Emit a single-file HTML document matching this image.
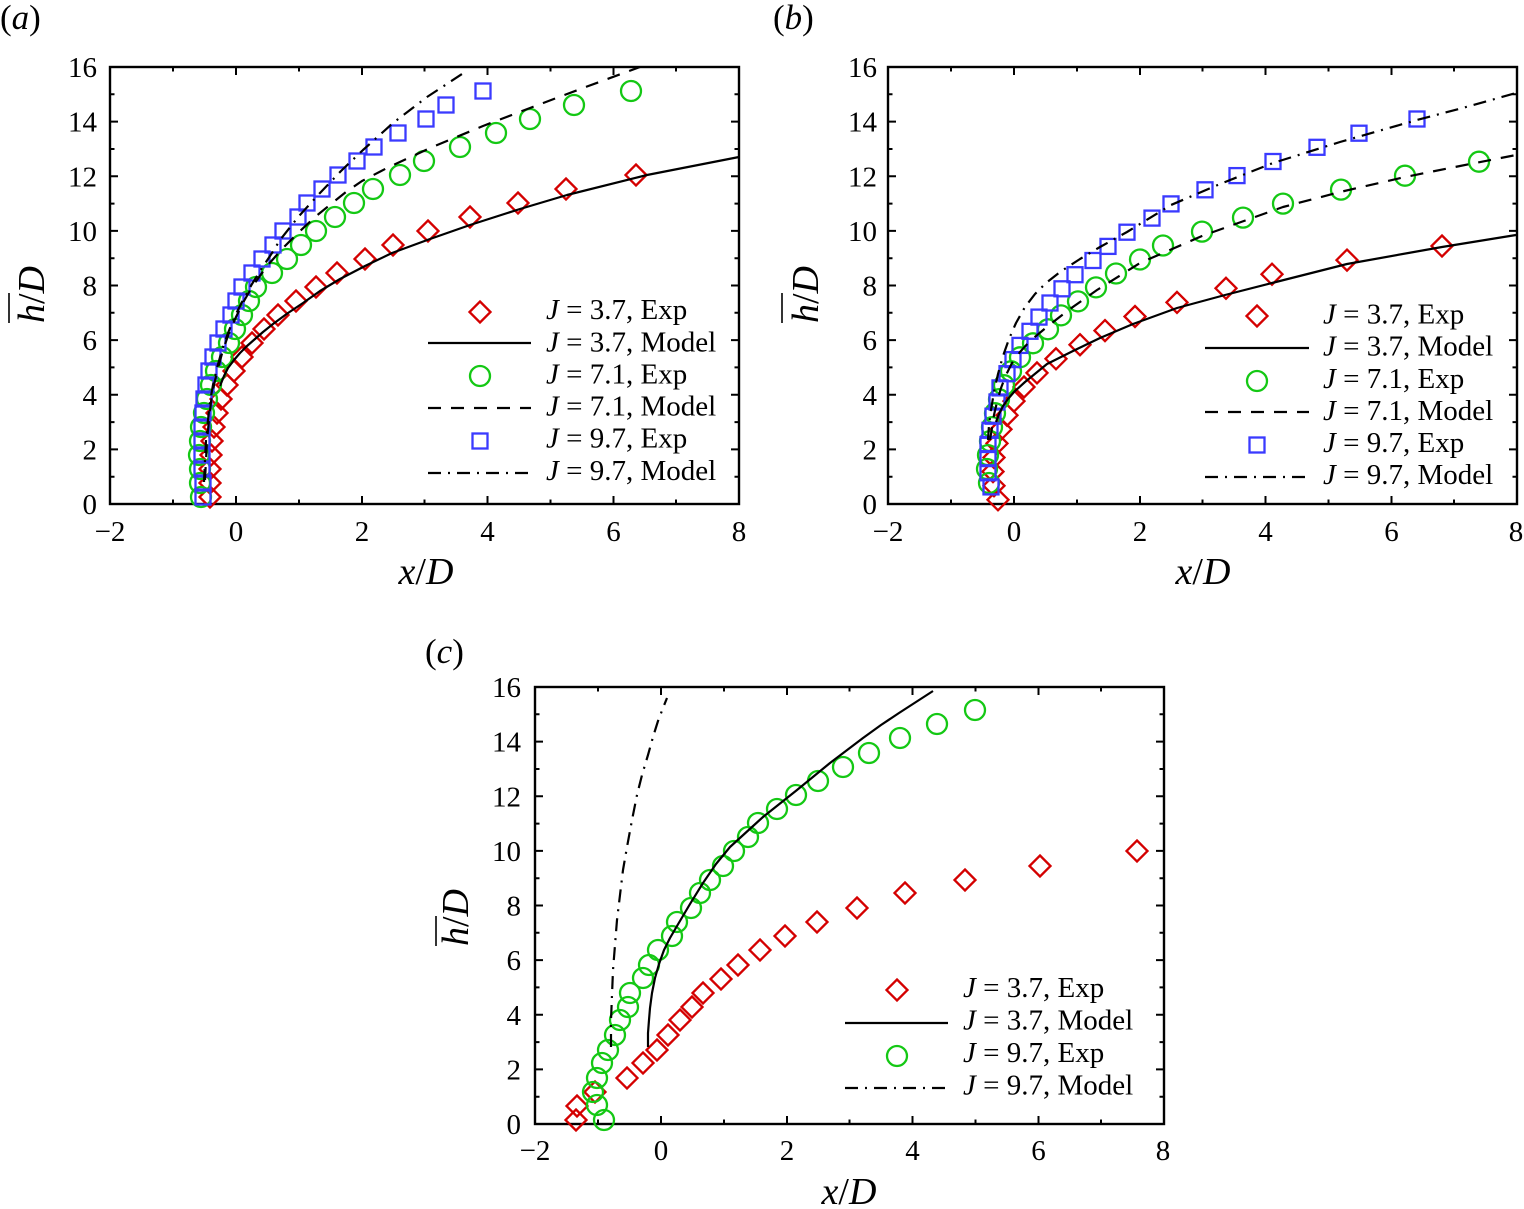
<!DOCTYPE html>
<html><head><meta charset="utf-8"><style>
html,body{margin:0;padding:0;background:#fff;}
svg{display:block;font-family:"Liberation Serif","Times New Roman",serif;}
</style></head><body>
<svg width="1524" height="1209" viewBox="0 0 1524 1209" xmlns="http://www.w3.org/2000/svg">
<defs>
<path id="dm" d="M0,-10.5 L10.5,0 L0,10.5 L-10.5,0Z" fill="none" stroke="#d40000" stroke-width="2.3"/>
<circle id="ci" cx="0" cy="0" r="10" fill="none" stroke="#14c814" stroke-width="2.3"/>
<rect id="sq" x="-7.5" y="-7.5" width="15" height="15" fill="none" stroke="#3a3aff" stroke-width="2.3"/>
<g id="ax">
<rect x="110" y="67" width="629" height="437" fill="none" stroke="#000" stroke-width="2.4"/>
<path fill="none" stroke="#000" stroke-width="2" d="M236,504v-8M362,504v-8M487.5,504v-8M613.5,504v-8M173,504v-4.5M299,504v-4.5M424.5,504v-4.5M550.5,504v-4.5M676,504v-4.5M236,67v8M362,67v8M487.5,67v8M613.5,67v8M173,67v4.5M299,67v4.5M424.5,67v4.5M550.5,67v4.5M676,67v4.5M110,449.4h8M110,394.8h8M110,340.1h8M110,285.5h8M110,230.9h8M110,176.3h8M110,121.6h8M110,476.7h4.5M110,422.1h4.5M110,367.4h4.5M110,312.8h4.5M110,258.2h4.5M110,203.6h4.5M110,149h4.5M110,94.3h4.5M739,449.4h-8M739,394.8h-8M739,340.1h-8M739,285.5h-8M739,230.9h-8M739,176.3h-8M739,121.6h-8M739,476.7h-4.5M739,422.1h-4.5M739,367.4h-4.5M739,312.8h-4.5M739,258.2h-4.5M739,203.6h-4.5M739,149h-4.5M739,94.3h-4.5"/>
</g>
</defs>

<use href="#ax"/>
<use href="#ax" transform="translate(778,0)"/>
<use href="#ax" transform="translate(425,620)"/>

<g font-size="29" fill="#000">
<g text-anchor="end">
<text x="97" y="77">16</text><text x="97" y="131.6">14</text><text x="97" y="186.3">12</text><text x="97" y="240.9">10</text><text x="97" y="295.5">8</text><text x="97" y="350.1">6</text><text x="97" y="404.8">4</text><text x="97" y="459.4">2</text><text x="97" y="514">0</text>
<text x="877" y="77">16</text><text x="877" y="131.6">14</text><text x="877" y="186.3">12</text><text x="877" y="240.9">10</text><text x="877" y="295.5">8</text><text x="877" y="350.1">6</text><text x="877" y="404.8">4</text><text x="877" y="459.4">2</text><text x="877" y="514">0</text>
<text x="521" y="697">16</text><text x="521" y="751.6">14</text><text x="521" y="806.3">12</text><text x="521" y="860.9">10</text><text x="521" y="915.5">8</text><text x="521" y="970.1">6</text><text x="521" y="1024.8">4</text><text x="521" y="1079.4">2</text><text x="521" y="1134">0</text>
</g>
<g text-anchor="middle">
<text x="110" y="541">−2</text><text x="236" y="541">0</text><text x="362" y="541">2</text><text x="487.5" y="541">4</text><text x="613.5" y="541">6</text><text x="739" y="541">8</text>
<text x="888" y="541">−2</text><text x="1014" y="541">0</text><text x="1140" y="541">2</text><text x="1265.5" y="541">4</text><text x="1391.5" y="541">6</text><text x="1516" y="541">8</text>
<text x="535" y="1160">−2</text><text x="661" y="1160">0</text><text x="787" y="1160">2</text><text x="912.5" y="1160">4</text><text x="1038.5" y="1160">6</text><text x="1163" y="1160">8</text>
</g>
</g>

<g font-size="38" fill="#000">
<text x="426" y="584" text-anchor="middle"><tspan font-style="italic">x</tspan>/<tspan font-style="italic">D</tspan></text>
<text x="1203" y="584" text-anchor="middle"><tspan font-style="italic">x</tspan>/<tspan font-style="italic">D</tspan></text>
<text x="849" y="1204" text-anchor="middle"><tspan font-style="italic">x</tspan>/<tspan font-style="italic">D</tspan></text>
<text transform="translate(44,323) rotate(-90)"><tspan font-style="italic">h</tspan>/<tspan font-style="italic">D</tspan></text>
<text transform="translate(818,323) rotate(-90)"><tspan font-style="italic">h</tspan>/<tspan font-style="italic">D</tspan></text>
<text transform="translate(468,946) rotate(-90)"><tspan font-style="italic">h</tspan>/<tspan font-style="italic">D</tspan></text>
</g>
<g stroke="#000" stroke-width="1.6">
<line x1="9" y1="293" x2="9" y2="323"/>
<line x1="782" y1="293" x2="782" y2="323"/>
<line x1="436" y1="916" x2="436" y2="946"/>
</g>

<g font-size="35" fill="#000">
<text x="0" y="29">(<tspan font-style="italic">a</tspan>)</text>
<text x="773" y="29">(<tspan font-style="italic">b</tspan>)</text>
<text x="425" y="663">(<tspan font-style="italic">c</tspan>)</text>
</g>

<!-- Panel (a) markers -->
<g>
<use href="#dm" x="636" y="175"/><use href="#dm" x="566" y="189"/><use href="#dm" x="518" y="203"/><use href="#dm" x="470" y="217"/><use href="#dm" x="428" y="231"/><use href="#dm" x="393" y="245"/><use href="#dm" x="365" y="259"/><use href="#dm" x="337" y="273"/><use href="#dm" x="316" y="287"/><use href="#dm" x="296" y="301"/><use href="#dm" x="278" y="315"/><use href="#dm" x="264" y="329"/><use href="#dm" x="252" y="343"/><use href="#dm" x="242" y="357"/><use href="#dm" x="234" y="371"/><use href="#dm" x="227" y="385"/><use href="#dm" x="221" y="399"/><use href="#dm" x="217" y="413"/><use href="#dm" x="214" y="427"/><use href="#dm" x="212" y="441"/><use href="#dm" x="211" y="455"/><use href="#dm" x="210" y="469"/><use href="#dm" x="210" y="483"/><use href="#dm" x="210" y="497"/>
</g>
<g>
<use href="#ci" x="631" y="91"/><use href="#ci" x="574" y="105"/><use href="#ci" x="530" y="119"/><use href="#ci" x="496" y="133"/><use href="#ci" x="460" y="147"/><use href="#ci" x="424" y="161"/><use href="#ci" x="400" y="175"/><use href="#ci" x="373" y="189"/><use href="#ci" x="354" y="203"/><use href="#ci" x="335" y="217"/><use href="#ci" x="316" y="231"/><use href="#ci" x="301" y="245"/><use href="#ci" x="287" y="259"/><use href="#ci" x="272" y="273"/><use href="#ci" x="256" y="287"/><use href="#ci" x="249" y="301"/><use href="#ci" x="242" y="315"/><use href="#ci" x="235" y="329"/><use href="#ci" x="229" y="343"/><use href="#ci" x="222" y="357"/><use href="#ci" x="216" y="371"/><use href="#ci" x="211" y="385"/><use href="#ci" x="207" y="399"/><use href="#ci" x="204" y="413"/><use href="#ci" x="201" y="427"/><use href="#ci" x="200" y="441"/><use href="#ci" x="199" y="455"/><use href="#ci" x="200" y="469"/><use href="#ci" x="200" y="483"/><use href="#ci" x="201" y="497"/>
</g>
<g>
<use href="#sq" x="483" y="91"/><use href="#sq" x="446" y="105"/><use href="#sq" x="426" y="119"/><use href="#sq" x="398" y="133"/><use href="#sq" x="374" y="147"/><use href="#sq" x="357" y="161"/><use href="#sq" x="338" y="175"/><use href="#sq" x="322" y="189"/><use href="#sq" x="307" y="203"/><use href="#sq" x="298" y="217"/><use href="#sq" x="283" y="231"/><use href="#sq" x="273" y="245"/><use href="#sq" x="262" y="259"/><use href="#sq" x="252" y="273"/><use href="#sq" x="242" y="287"/><use href="#sq" x="236" y="301"/><use href="#sq" x="231" y="315"/><use href="#sq" x="224" y="329"/><use href="#sq" x="218" y="343"/><use href="#sq" x="213" y="357"/><use href="#sq" x="209" y="371"/><use href="#sq" x="206" y="385"/><use href="#sq" x="204" y="399"/><use href="#sq" x="203" y="413"/><use href="#sq" x="202" y="427"/><use href="#sq" x="202" y="441"/><use href="#sq" x="202" y="455"/><use href="#sq" x="202" y="469"/><use href="#sq" x="203" y="483"/><use href="#sq" x="203" y="497"/>
</g>

<g fill="none" stroke="#000" stroke-width="2.2" stroke-linejoin="round">
<path d="M220,386 L224,376 L228,368 L234,360 L240,353 L247,346 L255,339 L263,332 L273,324 L288,313 L303,303 L320,291 L340,279 L365,266 L392,253 L430,239 L470,225 L520,209 L567,195 L647,175 L739,157"/>
<path stroke-dasharray="13 10" d="M205,480 L206,460 L207,440 L209,420 L211,402 L214,385 L218,368 L223,350 L229,333 L236,317 L244,301 L252,287 L267,266 L283,248 L299,232 L315,217 L331,204 L346,192 L362,181 L387,168 L430,148 L483,126 L530,108 L583,88 L640,67"/>
<path stroke-dasharray="13 7 2 7" d="M204,482 L205,460 L206,440 L208,420 L210,402 L213,385 L217,368 L222,350 L228,333 L235,316 L243,300 L252,284 L262,268 L272,253 L280,240 L299,216 L320,193 L341,171 L363,150 L393,123 L427,97 L462,74"/>
</g>

<use href="#dm" x="480" y="312"/>
<use href="#ci" x="480" y="376"/>
<use href="#sq" x="480" y="441"/>
<g fill="none" stroke="#000" stroke-width="2.2">
<path d="M428,343 H531"/>
<path stroke-dasharray="13 10" d="M428,408 H531"/>
<path stroke-dasharray="13 7 2 7" d="M428,473 H531"/>
</g>
<g font-size="29" fill="#000">
<text x="546" y="319"><tspan font-style="italic">J</tspan> = 3.7, Exp</text>
<text x="546" y="351.5"><tspan font-style="italic">J</tspan> = 3.7, Model</text>
<text x="546" y="383.5"><tspan font-style="italic">J</tspan> = 7.1, Exp</text>
<text x="546" y="415.5"><tspan font-style="italic">J</tspan> = 7.1, Model</text>
<text x="546" y="447.5"><tspan font-style="italic">J</tspan> = 9.7, Exp</text>
<text x="546" y="480"><tspan font-style="italic">J</tspan> = 9.7, Model</text>
</g>

<!-- Panel (b) markers -->
<g>
<use href="#dm" x="1442" y="246"/><use href="#dm" x="1347" y="260.1"/><use href="#dm" x="1272" y="274.2"/><use href="#dm" x="1226" y="288.3"/><use href="#dm" x="1177" y="302.4"/><use href="#dm" x="1135" y="316.5"/><use href="#dm" x="1105" y="330.6"/><use href="#dm" x="1080" y="344.7"/><use href="#dm" x="1056" y="358.8"/><use href="#dm" x="1037" y="372.9"/><use href="#dm" x="1024" y="387"/><use href="#dm" x="1014" y="401.1"/><use href="#dm" x="1007" y="415.2"/><use href="#dm" x="1001" y="429.3"/><use href="#dm" x="997" y="443.4"/><use href="#dm" x="994" y="457.5"/><use href="#dm" x="993" y="471.6"/><use href="#dm" x="994" y="485.7"/><use href="#dm" x="998" y="499.8"/>
</g>
<g>
<use href="#ci" x="1479" y="161.7"/><use href="#ci" x="1405" y="175.7"/><use href="#ci" x="1341" y="189.6"/><use href="#ci" x="1283" y="203.6"/><use href="#ci" x="1243" y="217.6"/><use href="#ci" x="1202" y="231.6"/><use href="#ci" x="1163" y="245.5"/><use href="#ci" x="1140" y="259.5"/><use href="#ci" x="1116" y="273.5"/><use href="#ci" x="1096" y="287.4"/><use href="#ci" x="1078" y="301.4"/><use href="#ci" x="1061" y="315.4"/><use href="#ci" x="1048" y="329.3"/><use href="#ci" x="1033" y="343.3"/><use href="#ci" x="1020" y="357.3"/><use href="#ci" x="1011" y="371.3"/><use href="#ci" x="1004" y="385.2"/><use href="#ci" x="999" y="399.2"/><use href="#ci" x="995" y="413.2"/><use href="#ci" x="992" y="427.1"/><use href="#ci" x="990" y="441.1"/><use href="#ci" x="988" y="455.1"/><use href="#ci" x="987" y="469"/><use href="#ci" x="989" y="483"/>
</g>
<g>
<use href="#sq" x="1417" y="119"/><use href="#sq" x="1359" y="133.2"/><use href="#sq" x="1317" y="147.3"/><use href="#sq" x="1273" y="161.5"/><use href="#sq" x="1237" y="175.6"/><use href="#sq" x="1205" y="189.8"/><use href="#sq" x="1171" y="203.9"/><use href="#sq" x="1152" y="218.1"/><use href="#sq" x="1127" y="232.2"/><use href="#sq" x="1108" y="246.4"/><use href="#sq" x="1093" y="260.5"/><use href="#sq" x="1075" y="274.7"/><use href="#sq" x="1062" y="288.8"/><use href="#sq" x="1050" y="303"/><use href="#sq" x="1039" y="317.1"/><use href="#sq" x="1030" y="331.3"/><use href="#sq" x="1020" y="345.4"/><use href="#sq" x="1013" y="359.6"/><use href="#sq" x="1007" y="373.7"/><use href="#sq" x="1000" y="387.9"/><use href="#sq" x="997" y="402"/><use href="#sq" x="993" y="416.2"/><use href="#sq" x="990" y="430.3"/><use href="#sq" x="988" y="444.5"/><use href="#sq" x="988" y="458.6"/><use href="#sq" x="988" y="472.8"/><use href="#sq" x="991" y="486.9"/>
</g>

<g fill="none" stroke="#000" stroke-width="2.2" stroke-linejoin="round">
<path d="M996,422 L999,414 L1003,406 L1008,399 L1014,392 L1025,382 L1047,364 L1073,351 L1100,338 L1133,324 L1177,308 L1225,295 L1272,283 L1347,264 L1442,247 L1516,235"/>
<path stroke-dasharray="13 10" d="M990,440 L992,428 L994,415 L997,402 L1001,388 L1006,375 L1012,363 L1020,352 L1030,341 L1048,326 L1070,309 L1097,290 L1140,263 L1202,236 L1283,207 L1340,192 L1405,177 L1460,166 L1516,155"/>
<path stroke-dasharray="13 7 2 7" d="M988,440 L989,425 L991,410 L994,392 L998,374 L1003,356 L1009,339 L1016,323 L1025,307 L1035,294 L1046,283 L1060,272 L1080,259 L1100,247 L1127,232 L1171,205 L1220,184 L1273,163 L1340,142 L1417,120 L1470,106 L1516,93"/>
</g>

<use href="#dm" x="1257" y="316"/>
<use href="#ci" x="1257" y="381"/>
<use href="#sq" x="1257" y="445"/>
<g fill="none" stroke="#000" stroke-width="2.2">
<path d="M1205,348 H1309"/>
<path stroke-dasharray="13 10" d="M1205,412 H1309"/>
<path stroke-dasharray="13 7 2 7" d="M1205,477 H1309"/>
</g>
<g font-size="29" fill="#000">
<text x="1323" y="323.5"><tspan font-style="italic">J</tspan> = 3.7, Exp</text>
<text x="1323" y="355.5"><tspan font-style="italic">J</tspan> = 3.7, Model</text>
<text x="1323" y="388"><tspan font-style="italic">J</tspan> = 7.1, Exp</text>
<text x="1323" y="420"><tspan font-style="italic">J</tspan> = 7.1, Model</text>
<text x="1323" y="452"><tspan font-style="italic">J</tspan> = 9.7, Exp</text>
<text x="1323" y="484"><tspan font-style="italic">J</tspan> = 9.7, Model</text>
</g>

<!-- Panel (c) markers -->
<g>
<use href="#dm" x="1137" y="851"/><use href="#dm" x="1040" y="866"/><use href="#dm" x="965" y="880"/><use href="#dm" x="905" y="893"/><use href="#dm" x="857" y="908"/><use href="#dm" x="817" y="922"/><use href="#dm" x="785" y="936"/><use href="#dm" x="760" y="950"/><use href="#dm" x="738" y="965"/><use href="#dm" x="721" y="979"/><use href="#dm" x="703" y="993"/><use href="#dm" x="692" y="1007"/><use href="#dm" x="680" y="1020"/><use href="#dm" x="668" y="1035"/><use href="#dm" x="657" y="1050"/><use href="#dm" x="643" y="1063"/><use href="#dm" x="627" y="1078"/><use href="#dm" x="595" y="1092"/><use href="#dm" x="577" y="1106"/><use href="#dm" x="576" y="1120"/>
</g>
<g>
<use href="#ci" x="975" y="710"/><use href="#ci" x="937" y="724"/><use href="#ci" x="900" y="738"/><use href="#ci" x="869" y="753"/><use href="#ci" x="843" y="767"/><use href="#ci" x="818" y="781"/><use href="#ci" x="796" y="795"/><use href="#ci" x="777" y="809"/><use href="#ci" x="758" y="823"/><use href="#ci" x="748" y="837"/><use href="#ci" x="734" y="851"/><use href="#ci" x="723" y="866"/><use href="#ci" x="710" y="880"/><use href="#ci" x="700" y="893"/><use href="#ci" x="691" y="908"/><use href="#ci" x="677" y="922"/><use href="#ci" x="672" y="936"/><use href="#ci" x="658" y="950"/><use href="#ci" x="649" y="965"/><use href="#ci" x="643" y="978"/><use href="#ci" x="630" y="993"/><use href="#ci" x="628" y="1007"/><use href="#ci" x="620" y="1020"/><use href="#ci" x="615" y="1035"/><use href="#ci" x="608" y="1050"/><use href="#ci" x="602" y="1063"/><use href="#ci" x="597" y="1078"/><use href="#ci" x="593" y="1092"/><use href="#ci" x="597" y="1105"/><use href="#ci" x="604" y="1120"/>
</g>

<g fill="none" stroke="#000" stroke-width="2.2" stroke-linejoin="round">
<path d="M648,1047 L648,1033 L649,1020 L650,1008 L652,993 L655,978 L659,964 L664,950 L670,938 L677,926 L690,904 L703,883 L716,864 L730,847 L763,817 L797,790 L830,763 L863,738 L881,725 L899,713 L916,702 L933,691"/>
<path stroke-dasharray="13 7 2 7" d="M611,1047 L611,1020 L612,995 L613,970 L615,945 L617,920 L620,895 L623,870 L627,847 L632,820 L637,795 L642,775 L648,755 L653,737 L658,721 L663,708 L667,698"/>
</g>

<use href="#dm" x="897" y="990"/>
<use href="#ci" x="897" y="1056"/>
<g fill="none" stroke="#000" stroke-width="2.2">
<path d="M845,1023 H948"/>
<path stroke-dasharray="13 7 2 7" d="M845,1088 H948"/>
</g>
<g font-size="29" fill="#000">
<text x="963" y="997"><tspan font-style="italic">J</tspan> = 3.7, Exp</text>
<text x="963" y="1029.5"><tspan font-style="italic">J</tspan> = 3.7, Model</text>
<text x="963" y="1062"><tspan font-style="italic">J</tspan> = 9.7, Exp</text>
<text x="963" y="1094.5"><tspan font-style="italic">J</tspan> = 9.7, Model</text>
</g>
</svg>
</body></html>
